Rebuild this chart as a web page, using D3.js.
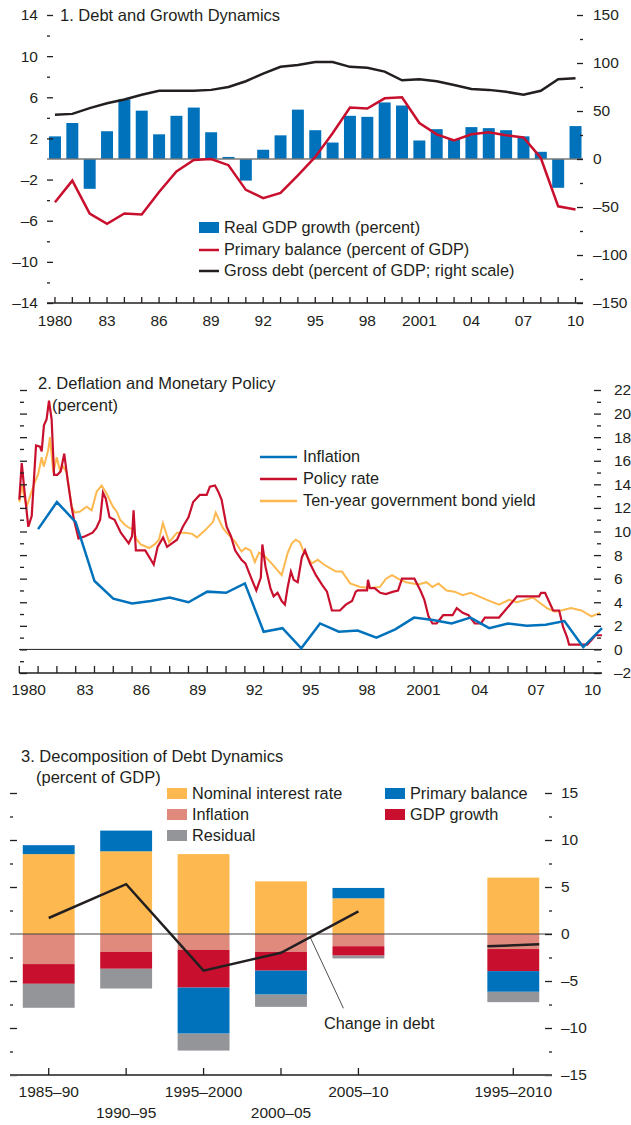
<!DOCTYPE html>
<html>
<head>
<meta charset="utf-8">
<script src="https://cdn.jsdelivr.net/npm/d3@7"></script>
<style>
  body { margin: 0; background: #fff; }
  text { font-family: "Liberation Sans", Arial, sans-serif; fill: #231f20; }
</style>
</head>
<body>
<svg id="chart" width="631" height="1125"></svg>
<script>
// ---- panel 1: debt and growth
const years = [1980,1981,1982,1983,1984,1985,1986,1987,1988,1989,1990,1991,1992,1993,1994,1995,
  1996,1997,1998,1999,2000,2001,2002,2003,2004,2005,2006,2007,2008,2009,2010];
const gdpGrowth = [2.2,3.5,-2.9,2.7,5.8,4.7,2.4,4.2,5.0,2.6,0.2,-2.1,0.9,2.3,4.8,2.8,
  1.6,4.2,4.1,5.5,5.2,1.8,2.9,1.9,3.1,3.0,2.8,2.2,0.7,-2.8,3.2];
const primaryBalance = [-4.2,-2.1,-5.3,-6.3,-5.3,-5.4,-3.2,-1.2,-0.1,0.0,-0.6,-3.0,-3.8,-3.3,-1.6,0.2,
  2.5,5.0,4.9,5.9,6.0,3.5,2.4,1.8,2.4,2.6,2.3,2.1,0.1,-4.6,-4.9];
const grossDebt = [46,47,53,58,62,67,71,71,71,72,75,81,89,96,98,101,
  101,96,95,91,82,83,81,77,73,72,70,67,71,83,84];
const labelYears = [1980,1983,1986,1989,1992,1995,1998,2001,2004,2007,2010];
const labelText = ["1980","83","86","89","92","95","98","2001","04","07","10"];

// ---- panel 2: deflation and monetary policy
const inflation = [10.2,12.5,10.8,5.8,4.3,3.9,4.1,4.4,4.0,4.9,4.8,5.6,1.5,1.8,0.1,2.2,
  1.5,1.6,1.0,1.7,2.7,2.5,2.2,2.7,1.8,2.2,2.0,2.1,2.4,0.2,1.8];
const policyRate = [[1980.0,12.7],[1980.13,15.8],[1980.27,13.5],[1980.48,10.4],[1980.66,11.3],[1980.89,17.3],
  [1981.1,17.2],[1981.19,16.8],[1981.31,19.0],[1981.45,19.5],[1981.58,21.1],[1981.72,19.5],[1981.85,14.8],
  [1982.02,14.8],[1982.2,15.1],[1982.39,16.6],[1982.57,14.4],[1982.78,12.1],[1982.91,11.0],[1983.15,9.4],
  [1983.5,9.6],[1983.9,9.9],[1984.1,10.3],[1984.3,11.0],[1984.45,13.3],[1984.6,12.8],[1984.8,11.2],
  [1985.07,11.0],[1985.4,9.9],[1985.82,9.0],[1986.0,9.6],[1986.08,11.8],[1986.2,8.4],[1986.7,8.4],
  [1987.0,7.6],[1987.15,7.2],[1987.36,8.7],[1987.65,9.5],[1987.86,8.7],[1988.39,9.3],[1988.7,10.4],
  [1989.0,11.2],[1989.25,12.5],[1989.6,13.1],[1989.97,13.1],[1990.14,13.8],[1990.41,13.9],[1990.58,13.4],
  [1990.76,12.7],[1991.03,10.4],[1991.26,9.6],[1991.48,8.4],[1991.82,7.6],[1992.03,7.3],[1992.35,6.0],
  [1992.61,5.0],[1992.85,6.1],[1992.93,8.9],[1993.1,7.0],[1993.36,5.2],[1993.53,4.5],[1993.74,4.8],
  [1993.96,4.1],[1994.13,3.8],[1994.28,5.3],[1994.45,6.6],[1994.6,5.9],[1994.81,5.7],[1995.03,7.8],
  [1995.2,8.4],[1995.46,7.3],[1995.78,6.3],[1996.1,5.5],[1996.37,4.9],[1996.63,3.3],[1997.06,3.3],
  [1997.37,3.8],[1997.7,4.1],[1997.9,4.9],[1998.0,5.0],[1998.5,5.0],[1998.55,5.9],[1998.65,5.2],
  [1998.9,5.2],[1999.2,4.8],[1999.5,4.7],[1999.9,4.9],[2000.15,5.0],[2000.36,6.0],[2001.02,6.0],
  [2001.34,5.0],[2001.55,4.2],[2001.77,2.8],[2001.98,2.2],[2002.2,2.2],[2002.55,2.9],[2003.05,2.9],
  [2003.27,3.5],[2003.59,3.1],[2003.9,2.9],[2004.23,2.2],[2004.56,2.2],[2004.77,2.7],[2005.52,2.7],
  [2005.84,3.3],[2006.16,3.9],[2006.48,4.5],[2007.65,4.5],[2007.76,4.8],[2007.97,4.8],[2008.2,4.0],
  [2008.4,3.3],[2008.72,3.3],[2008.93,1.9],[2009.15,1.0],[2009.25,0.4],[2010.22,0.4],[2010.44,0.8],
  [2010.65,1.2],[2011.0,1.2]];
const bondYield = [[1980.0,12.5],[1980.13,13.9],[1980.39,12.1],[1980.74,13.8],[1981.01,14.9],[1981.19,16.3],
  [1981.3,15.5],[1981.54,16.9],[1981.63,18.0],[1981.81,15.0],[1981.99,16.3],[1982.16,15.2],[1982.34,15.5],
  [1982.52,15.0],[1982.79,12.1],[1982.96,11.6],[1983.23,11.7],[1983.59,12.1],[1983.85,11.8],[1984.12,13.4],
  [1984.38,13.9],[1984.65,13.2],[1984.98,12.1],[1985.18,11.7],[1985.36,11.0],[1985.6,10.6],[1985.85,10.3],
  [1986.04,10.2],[1986.25,9.3],[1986.46,8.9],[1986.9,8.6],[1987.2,8.9],[1987.43,9.3],[1987.64,10.7],
  [1987.97,9.1],[1988.39,9.9],[1988.81,9.9],[1989.2,9.8],[1989.45,9.5],[1989.88,10.1],[1990.3,10.8],
  [1990.45,11.6],[1990.62,11.0],[1990.83,10.3],[1991.03,9.9],[1991.26,9.5],[1991.5,9.1],[1991.82,8.3],
  [1992.03,8.6],[1992.3,8.4],[1992.53,7.4],[1992.75,8.2],[1993.0,8.0],[1993.42,7.3],[1993.96,6.3],
  [1994.28,8.2],[1994.5,9.0],[1994.71,9.3],[1994.92,9.1],[1995.13,8.3],[1995.56,7.3],[1995.88,7.6],
  [1996.2,7.2],[1996.53,6.9],[1996.85,6.6],[1997.17,6.6],[1997.6,5.6],[1998.13,5.3],[1998.66,5.2],
  [1999.19,5.3],[1999.51,6.0],[1999.83,6.3],[2000.15,6.0],[2000.57,5.7],[2001.23,5.5],[2001.66,5.7],
  [2001.98,5.3],[2002.3,5.6],[2002.73,5.0],[2003.16,4.9],[2003.59,4.6],[2004.02,4.8],[2004.45,4.5],
  [2004.88,4.2],[2005.52,3.8],[2006.05,4.2],[2006.47,4.0],[2006.9,4.2],[2007.33,4.4],[2007.65,4.0],
  [2008.07,3.5],[2008.5,3.2],[2008.82,3.3],[2009.35,3.5],[2009.9,3.3],[2010.44,2.8],[2010.89,3.1]];

// ---- panel 3: decomposition of debt dynamics (blank slot before the full-period bar)
const periods = ["1985–90","1990–95","1995–2000","2000–05","2005–10"," ","1995–2010"];
const periodLabelRow = [0, 1, 0, 1, 0, null, 0];
const nominalRate = [8.5, 8.8, 8.5, 5.6, 3.8, null, 6.0];
const primaryContrib = [0.95, 2.2, -4.9, -2.55, 1.1, null, -2.2];
const inflationContrib = [-3.2, -1.9, -1.7, -1.9, -1.3, null, -1.6];
const growthContrib = [-2.1, -1.8, -4.0, -2.0, -1.0, null, -2.35];
const residual = [-2.55, -2.1, -1.8, -1.3, -0.3, null, -1.1];
const changeInDebt = [1.7, 5.3, -3.9, -2.0, 2.4, null, -1.2];

const blue = "#0072bc", red = "#c8102e", black = "#231f20",
      orange = "#fdb94f", salmon = "#e08a7d", grey = "#939598";
const minus = d => d < 0 ? "–" + Math.abs(d) : String(d);

const svg = d3.select('#chart');

function styleAxis(g) {
  g.select('.domain').remove();
  g.selectAll('line').attr('stroke', black).attr('stroke-width', 1.3);
  g.selectAll('text').attr('font-size', 15.5).style('font-family', '"Liberation Sans", Arial, sans-serif').attr('fill', black);
}

// ======================= panel 1
{
  const x = d3.scaleBand().domain(years).range([46.3, 584.2]).paddingInner(0.31).paddingOuter(0.155);
  const y = d3.scaleLinear().domain([-14, 14]).range([303, 15]);
  const yr = d3.scaleLinear().domain([-150, 150]).range([303, 15]);
  const cx = d => x(d) + x.bandwidth() / 2;

  svg.append('g').selectAll('rect').data(years).join('rect')
    .attr('x', d => x(d)).attr('width', x.bandwidth())
    .attr('y', (d, i) => y(Math.max(0, gdpGrowth[i])))
    .attr('height', (d, i) => Math.abs(y(gdpGrowth[i]) - y(0)))
    .attr('fill', blue);

  svg.append('line').attr('x1', 47).attr('x2', 583).attr('y1', y(0)).attr('y2', y(0))
    .attr('stroke', '#777').attr('stroke-width', 1.5);

  svg.append('path').datum(years)
    .attr('d', d3.line().x(d => cx(d)).y((d, i) => y(primaryBalance[i])))
    .attr('fill', 'none').attr('stroke', red).attr('stroke-width', 2.5);
  svg.append('path').datum(years)
    .attr('d', d3.line().x(d => cx(d)).y((d, i) => yr(grossDebt[i])))
    .attr('fill', 'none').attr('stroke', black).attr('stroke-width', 2.5);

  // left axis: minor then labelled
  svg.append('g').attr('transform', 'translate(47,0)')
    .call(d3.axisLeft(y).tickValues([12, 8, 4, -4, -8, -12]).tickSize(-3).tickFormat(''))
    .call(styleAxis);
  svg.append('g').attr('transform', 'translate(47,0)')
    .call(d3.axisLeft(y).tickValues([14, 10, 6, 2, -2, -6, -10, -14]).tickSize(-6).tickPadding(9).tickFormat(minus))
    .call(styleAxis);
  svg.append('g').attr('transform', 'translate(583,0)')
    .call(d3.axisRight(yr).tickValues([125, 75, 25, -25, -75, -125]).tickSize(-3).tickFormat(''))
    .call(styleAxis);
  svg.append('g').attr('transform', 'translate(583,0)')
    .call(d3.axisRight(yr).tickValues([150, 100, 50, 0, -50, -100, -150]).tickSize(-6).tickPadding(10).tickFormat(minus))
    .call(styleAxis);

  // bottom axis
  svg.append('line').attr('x1', 47).attr('x2', 583).attr('y1', 303).attr('y2', 303)
    .attr('stroke', black).attr('stroke-width', 1.5);
  svg.append('g').selectAll('line').data(years).join('line')
    .attr('x1', d => cx(d)).attr('x2', d => cx(d)).attr('y1', 303).attr('y2', 297)
    .attr('stroke', black).attr('stroke-width', 1.3);
  svg.append('g').selectAll('text').data(labelYears).join('text')
    .attr('x', d => cx(d)).attr('y', 326).attr('text-anchor', 'middle').attr('font-size', 15.5)
    .text((d, i) => labelText[i]);

  svg.append('text').attr('x', 60).attr('y', 21).attr('font-size', 16.5).text('1. Debt and Growth Dynamics');

  const leg = svg.append('g').attr('transform', 'translate(199,0)');
  leg.append('rect').attr('x', 0).attr('y', 222).attr('width', 20).attr('height', 11).attr('fill', blue);
  leg.append('line').attr('x1', 0).attr('x2', 20).attr('y1', 250).attr('y2', 250).attr('stroke', red).attr('stroke-width', 2.5);
  leg.append('line').attr('x1', 0).attr('x2', 20).attr('y1', 271).attr('y2', 271).attr('stroke', black).attr('stroke-width', 2.5);
  [['Real GDP growth (percent)', 233], ['Primary balance (percent of GDP)', 255], ['Gross debt (percent of GDP; right scale)', 276]]
    .forEach(([t, yy]) => leg.append('text').attr('x', 25).attr('y', yy).attr('font-size', 16.3).text(t));
}

// ======================= panel 2
{
  const x = d3.scaleLinear().domain([1980, 2011]).range([19.3, 602]);
  const y = d3.scaleLinear().domain([-2, 22]).range([673, 390]);
  const line = d3.line().x(d => x(d[0])).y(d => y(d[1]));

  svg.append('line').attr('x1', 19).attr('x2', 602).attr('y1', y(0)).attr('y2', y(0))
    .attr('stroke', black).attr('stroke-width', 1);

  svg.append('path').datum(bondYield).attr('d', line)
    .attr('fill', 'none').attr('stroke', orange).attr('stroke-width', 2);
  svg.append('path').datum(policyRate).attr('d', line)
    .attr('fill', 'none').attr('stroke', red).attr('stroke-width', 2.2);
  // annual inflation plotted at the end of each year
  svg.append('path').datum(years)
    .attr('d', d3.line().x(d => x(d + 1)).y((d, i) => y(inflation[i])))
    .attr('fill', 'none').attr('stroke', blue).attr('stroke-width', 2.5);

  const even = d3.range(-2, 23, 2), odd = d3.range(-1, 22, 2);
  svg.append('g').attr('transform', 'translate(20,0)')
    .call(d3.axisLeft(y).tickValues(odd).tickSize(-4).tickFormat('')).call(styleAxis);
  svg.append('g').attr('transform', 'translate(20,0)')
    .call(d3.axisLeft(y).tickValues(even).tickSize(-7).tickFormat('')).call(styleAxis);
  svg.append('g').attr('transform', 'translate(601,0)')
    .call(d3.axisRight(y).tickValues(odd).tickSize(-4).tickFormat('')).call(styleAxis);
  svg.append('g').attr('transform', 'translate(601,0)')
    .call(d3.axisRight(y).tickValues(even).tickSize(-7).tickPadding(13).tickFormat(minus)).call(styleAxis);

  svg.append('line').attr('x1', 19).attr('x2', 602).attr('y1', 673).attr('y2', 673)
    .attr('stroke', black).attr('stroke-width', 1.5);
  svg.append('g').selectAll('line').data(years).join('line')
    .attr('x1', d => x(d)).attr('x2', d => x(d)).attr('y1', 673).attr('y2', 666)
    .attr('stroke', black).attr('stroke-width', 1.3);
  svg.append('g').selectAll('text').data(labelYears).join('text')
    .attr('x', d => x(d + 0.5)).attr('y', 695).attr('text-anchor', 'middle').attr('font-size', 15.5)
    .text((d, i) => labelText[i]);

  svg.append('text').attr('x', 38).attr('y', 389).attr('font-size', 16.5).text('2. Deflation and Monetary Policy');
  svg.append('text').attr('x', 52).attr('y', 411).attr('font-size', 16.5).text('(percent)');

  const leg = svg.append('g').attr('transform', 'translate(260,0)');
  [['Inflation', blue, 457], ['Policy rate', red, 479], ['Ten-year government bond yield', orange, 501]]
    .forEach(([t, c, yy]) => {
      leg.append('line').attr('x1', 0).attr('x2', 37).attr('y1', yy).attr('y2', yy).attr('stroke', c).attr('stroke-width', 2.5);
      leg.append('text').attr('x', 43).attr('y', yy + 5).attr('font-size', 16.3).text(t);
    });
}

// ======================= panel 3
{
  const keys = ['nominal', 'inflation', 'growth', 'primary', 'residual'];
  const colors = {nominal: orange, inflation: salmon, growth: red, primary: blue, residual: grey};
  const rows = periods.map((p, i) => ({period: p, nominal: nominalRate[i] || 0, inflation: inflationContrib[i] || 0,
    growth: growthContrib[i] || 0, primary: primaryContrib[i] || 0, residual: residual[i] || 0}));
  const series = d3.stack().keys(keys).offset(d3.stackOffsetDiverging)(rows);

  const x = d3.scaleBand().domain(periods).range([10, 552]).paddingInner(0.33).paddingOuter(0.165);
  const y = d3.scaleLinear().domain([-15, 15]).range([1075, 793]);
  const cx = d => x(d) + x.bandwidth() / 2;

  svg.append('g').selectAll('g').data(series).join('g').attr('fill', s => colors[s.key])
    .selectAll('rect').data(s => s.filter(d => d[0] !== d[1])).join('rect')
    .attr('x', d => x(d.data.period)).attr('width', x.bandwidth())
    .attr('y', d => y(Math.max(d[0], d[1]))).attr('height', d => Math.abs(y(d[0]) - y(d[1])));

  svg.append('line').attr('x1', 10).attr('x2', 552).attr('y1', y(0)).attr('y2', y(0))
    .attr('stroke', '#444').attr('stroke-width', 1.2);

  const linked = periods.slice(0, 5);
  svg.append('path').datum(linked)
    .attr('d', d3.line().x(d => cx(d)).y((d, i) => y(changeInDebt[i])))
    .attr('fill', 'none').attr('stroke', black).attr('stroke-width', 2.5);
  const last = periods.length - 1;
  svg.append('line').attr('x1', x(periods[last])).attr('x2', x(periods[last]) + x.bandwidth())
    .attr('y1', y(changeInDebt[last]) + 1).attr('y2', y(changeInDebt[last]) - 1)
    .attr('stroke', black).attr('stroke-width', 2.5);

  // annotation
  const ax = cx(periods[3]) + 0.38 * x.step();
  svg.append('line').attr('x1', ax).attr('y1', y(-0.4)).attr('x2', ax + 33).attr('y2', y(-7.9))
    .attr('stroke', black).attr('stroke-width', 0.8);
  svg.append('text').attr('x', 324).attr('y', 1029).attr('font-size', 16.3).text('Change in debt');

  const minor = [12.5, 7.5, 2.5, -2.5, -7.5, -12.5], major = [15, 10, 5, 0, -5, -10, -15];
  svg.append('g').attr('transform', 'translate(10,0)')
    .call(d3.axisLeft(y).tickValues(minor).tickSize(-3).tickFormat('')).call(styleAxis);
  svg.append('g').attr('transform', 'translate(10,0)')
    .call(d3.axisLeft(y).tickValues(major.filter(d => d !== 0)).tickSize(-7).tickFormat('')).call(styleAxis);
  svg.append('g').attr('transform', 'translate(552,0)')
    .call(d3.axisRight(y).tickValues(minor).tickSize(-3).tickFormat('')).call(styleAxis);
  svg.append('g').attr('transform', 'translate(552,0)')
    .call(d3.axisRight(y).tickValues(major).tickSize(-7).tickPadding(9).tickFormat(minus)).call(styleAxis);

  svg.append('line').attr('x1', 10).attr('x2', 552).attr('y1', 1075).attr('y2', 1075)
    .attr('stroke', '#555').attr('stroke-width', 2);
  const shown = periods.filter(p => p.trim() !== '');
  svg.append('g').selectAll('line').data(shown).join('line')
    .attr('x1', d => cx(d)).attr('x2', d => cx(d)).attr('y1', 1075).attr('y2', 1068)
    .attr('stroke', black).attr('stroke-width', 1.3);
  svg.append('g').selectAll('text').data(shown).join('text')
    .attr('x', d => cx(d)).attr('y', d => periodLabelRow[periods.indexOf(d)] ? 1118 : 1097)
    .attr('text-anchor', 'middle').attr('font-size', 15.5).text(d => d);

  svg.append('text').attr('x', 21).attr('y', 762).attr('font-size', 16.5).text('3. Decomposition of Debt Dynamics');
  svg.append('text').attr('x', 36).attr('y', 783).attr('font-size', 16.5).text('(percent of GDP)');

  const legend = [['Nominal interest rate', orange, 167, 788], ['Inflation', salmon, 167, 809], ['Residual', grey, 167, 830],
                  ['Primary balance', blue, 385, 788], ['GDP growth', red, 385, 809]];
  legend.forEach(([t, c, lx, ly]) => {
    svg.append('rect').attr('x', lx).attr('y', ly).attr('width', 20).attr('height', 11).attr('fill', c);
    svg.append('text').attr('x', lx + 25).attr('y', ly + 11).attr('font-size', 16.3).text(t);
  });
}
</script>
</body>
</html>
